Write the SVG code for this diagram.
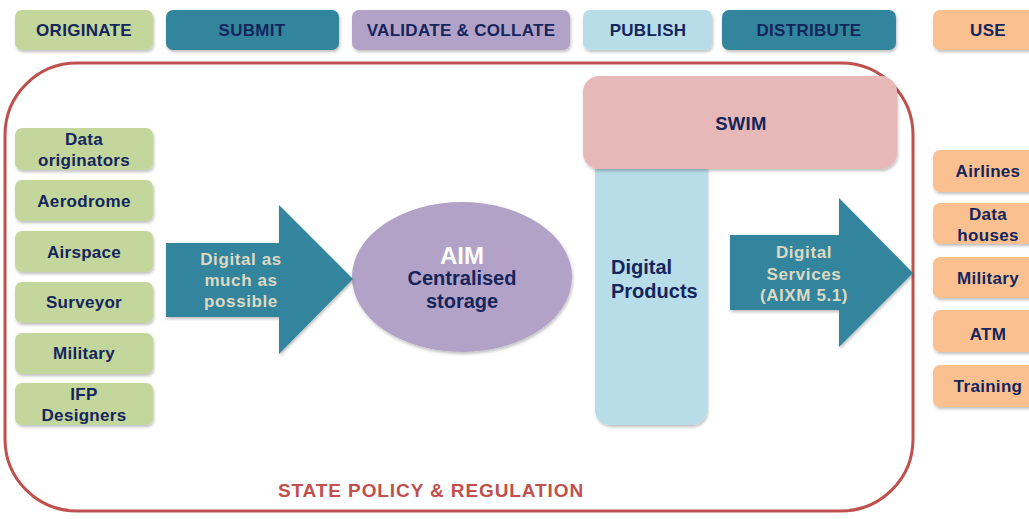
<svg xmlns="http://www.w3.org/2000/svg" width="1029" height="519" viewBox="0 0 1029 519">
<defs>
<filter id="sh" x="-10%" y="-10%" width="125%" height="130%">
<feDropShadow dx="1" dy="2" stdDeviation="1.5" flood-color="#000" flood-opacity="0.25"/>
</filter>
</defs>
<style>
text{font-family:"Liberation Sans",Arial,sans-serif;font-weight:bold;text-anchor:middle}
.t{fill:#14255c;font-size:17px;letter-spacing:0.3px}
.g{fill:#c3d69b}
.teal{fill:#31859c}
.pur{fill:#b3a2c7}
.lb{fill:#b7dde8}
.or{fill:#fac090}
.pk{fill:#e6b8b7}
.at{fill:#ddd9c3;font-size:17px;letter-spacing:0.6px}
</style>
<rect x="5" y="63" width="908" height="448" rx="72" ry="72" fill="#fff" stroke="#c0504d" stroke-width="3"/>
<text x="431" y="497" style="fill:#c0504d;font-size:19px;letter-spacing:0.9px">STATE POLICY &amp; REGULATION</text>

<g id="hdr-originate"><rect x="15" y="10" width="138" height="40" rx="7" class="g" filter="url(#sh)"/><text x="84" y="36" class="t">ORIGINATE</text></g>
<g id="hdr-submit"><rect x="166" y="10" width="173" height="40" rx="7" class="teal" filter="url(#sh)"/><text x="252" y="36" class="t">SUBMIT</text></g>
<g id="hdr-validate"><rect x="352" y="10" width="218" height="40" rx="7" class="pur" filter="url(#sh)"/><text x="461" y="36" class="t">VALIDATE &amp; COLLATE</text></g>
<g id="hdr-publish"><rect x="583" y="10" width="129" height="40" rx="7" class="lb" filter="url(#sh)"/><text x="648" y="36" class="t">PUBLISH</text></g>
<g id="hdr-distribute"><rect x="722" y="10" width="174" height="40" rx="7" class="teal" filter="url(#sh)"/><text x="809" y="36" class="t">DISTRIBUTE</text></g>
<g id="hdr-use"><rect x="933" y="10" width="110" height="40" rx="7" class="or" filter="url(#sh)"/><text x="988" y="36" class="t">USE</text></g>

<g id="data-originators"><rect x="15" y="128" width="138" height="42" rx="7" class="g" filter="url(#sh)"/><text x="84" y="145" class="t">Data</text><text x="84" y="166" class="t">originators</text></g>
<g id="aerodrome"><rect x="15" y="180" width="138" height="41" rx="7" class="g" filter="url(#sh)"/><text x="84" y="207" class="t">Aerodrome</text></g>
<g id="airspace"><rect x="15" y="231" width="138" height="41" rx="7" class="g" filter="url(#sh)"/><text x="84" y="258" class="t">Airspace</text></g>
<g id="surveyor"><rect x="15" y="282" width="138" height="41" rx="7" class="g" filter="url(#sh)"/><text x="84" y="308" class="t">Surveyor</text></g>
<g id="military-src"><rect x="15" y="333" width="138" height="41" rx="7" class="g" filter="url(#sh)"/><text x="84" y="359" class="t">Military</text></g>
<g id="ifp-designers"><rect x="15" y="383" width="138" height="42" rx="7" class="g" filter="url(#sh)"/><text x="84" y="400" class="t">IFP</text><text x="84" y="421" class="t">Designers</text></g>

<g id="aim"><ellipse cx="462" cy="277" rx="110" ry="75" class="pur" filter="url(#sh)"/>
<text x="462" y="264" style="fill:#fff;font-size:24px">AIM</text>
<text x="462" y="285" style="fill:#14255c;font-size:20px">Centralised</text>
<text x="462" y="308" style="fill:#14255c;font-size:20px">storage</text></g>

<g id="digital-products"><path d="M595 160 H707 V410 A15 15 0 0 1 692 425 H610 A15 15 0 0 1 595 410 Z" class="lb" filter="url(#sh)"/>
<text x="611" y="274" style="fill:#14255c;font-size:20px;text-anchor:start">Digital</text>
<text x="611" y="298" style="fill:#14255c;font-size:20px;text-anchor:start">Products</text></g>

<g id="swim"><rect x="583" y="76" width="314" height="93" rx="16" class="pk" filter="url(#sh)"/><text x="741" y="130" class="t" style="font-size:18.5px">SWIM</text></g>

<g id="airlines"><rect x="933" y="150" width="110" height="42" rx="7" class="or" filter="url(#sh)"/><text x="988" y="177" class="t">Airlines</text></g>
<g id="data-houses"><rect x="933" y="203" width="110" height="41" rx="7" class="or" filter="url(#sh)"/><text x="988" y="220" class="t">Data</text><text x="988" y="241" class="t">houses</text></g>
<g id="military-use"><rect x="933" y="257" width="110" height="41" rx="7" class="or" filter="url(#sh)"/><text x="988" y="284" class="t">Military</text></g>
<g id="atm"><rect x="933" y="310" width="110" height="42" rx="7" class="or" filter="url(#sh)"/><text x="988" y="340" class="t">ATM</text></g>
<g id="training"><rect x="933" y="365" width="110" height="42" rx="7" class="or" filter="url(#sh)"/><text x="988" y="392" class="t">Training</text></g>

<g id="connectors">
<g id="arrow-submit"><polygon points="166,243 279,243 279,205 353,279 279,354 279,317 166,317" class="teal" filter="url(#sh)"/>
<text x="241" y="265" class="at">Digital as</text><text x="241" y="286" class="at">much as</text><text x="241" y="307" class="at">possible</text></g>
<g id="arrow-distribute"><polygon points="730,235 839,235 839,198 913,273 839,347 839,310 730,310" class="teal" filter="url(#sh)"/>
<text x="804" y="258" class="at">Digital</text><text x="804" y="280" class="at">Services</text><text x="804" y="301" class="at">(AIXM 5.1)</text></g>
</g>
</svg>
